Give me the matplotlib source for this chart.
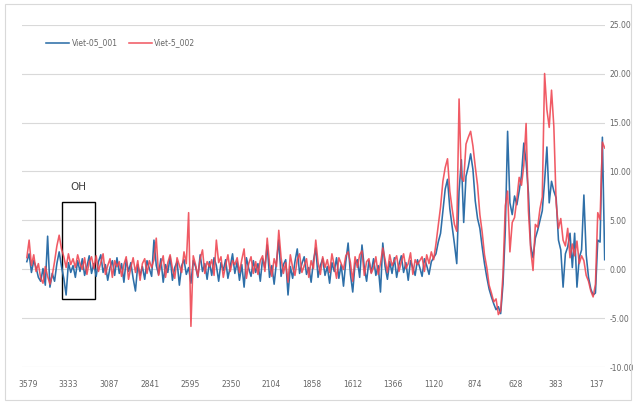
import matplotlib
matplotlib.use("Agg")
import matplotlib.pyplot as plt
from matplotlib.patches import Rectangle
import numpy as np

# wavenumber axis (cm-1), sampled every 14
wavenumber = np.linspace(3586, 86, 251)

viet_05_001 = [
    0.8, 1.6, -0.3, 0.9, 0.2, -0.8, -1.2, 0.1, -1.6, 3.4,
    -1.8, -0.4, -1.2, 0.6, 1.8, 0.3, -0.9, -2.6, 0.7, -0.3,
    0.4, -0.8, 0.9, -0.2, 1.1, -0.6, 0.3, 1.4, -0.4, 0.6,
    -0.7, 0.8, 1.5, -0.3, 0.5, -1.1, 0.2, 0.9, -0.6, 1.2,
    -0.4, 0.6, -1.3, 1.0, -0.2, 0.7, -0.9, -2.2, 0.5, -0.6,
    0.3, -1.0, 0.9, 0.1, -0.7, 3.0, 0.4, -0.5, 1.1, -1.3,
    0.5, -0.3, 1.3, -1.1, 0.2, 0.8, -1.6, 0.4, 1.0, -0.5,
    0.2, -1.4, 0.9, 0.3, -0.8, 1.5, -0.2, 0.6, -1.0, 0.8,
    -0.6, 1.2, 0.4, -1.2, 0.7, -0.1, 1.0, -0.9, 0.3, 1.6,
    -0.4, 0.8, -1.1, 0.5, -1.8, 1.2, 0.1, -0.7, 0.9, -0.3,
    0.6, -1.2, 1.1, 0.2, 2.5, -0.8, 0.4, -1.5, 0.7, 3.0,
    -0.7, 0.5, 1.0, -2.6, 0.3, -0.9, 0.8, 2.1, -0.4, 0.6,
    1.3, -0.5, 0.2, -1.3, 0.9, 2.2, -0.8, 0.4, 1.1, -0.6,
    0.3, -1.4, 0.7, -0.2, 1.2, -0.9, 0.5, -1.7, 0.8, 2.7,
    -0.5, -2.3, 0.6, 1.0, -0.8, 2.5, 0.2, -1.2, 0.9, -0.3,
    1.1, -0.6, 0.4, -2.3, 2.7, 0.3, -1.0, 0.8, -0.4, 1.2,
    -0.8, 0.5, 1.4, -0.3, 0.7, -1.1, 0.9, 0.2, -0.6, 1.0,
    0.2, -0.7, 1.1, 0.4, -0.5, 0.8, 1.2, 1.6, 2.8, 3.7,
    6.0, 8.2, 9.2, 6.2, 4.4, 2.6, 0.6, 8.0, 11.2, 4.8,
    9.5, 10.5, 11.8, 10.2, 7.0, 5.2, 4.2, 2.3, 0.6, -0.8,
    -2.0, -2.8, -3.5, -4.1, -3.8, -4.5, -1.5, 4.0, 14.1, 6.8,
    5.6, 7.5, 6.6, 8.0, 9.6, 12.9, 11.0, 7.8, 2.4, 1.2,
    3.2, 4.0, 5.0, 6.0, 9.0, 12.5, 6.8, 9.0, 8.0, 7.3,
    3.0, 2.0, -1.8, 1.6, 2.3, 3.7, 0.2, 3.7, -1.8, 1.2,
    2.0, 7.6, 1.5, -0.8, -2.0, -2.6, -2.4, 3.0, 2.8, 13.5,
    1.0,
]

viet_5_002 = [
    1.2, 3.0, 0.4, 1.5, -0.2, 0.6, -0.9, -1.4, 0.3, -0.7,
    -1.5, -0.6, 0.8, 2.4, 3.5, 2.1, 1.3, 0.2, 1.6, 0.5,
    1.1, 0.2, 1.5, 0.6, 0.0, 1.2, -0.5, 0.8, 1.3, 0.1,
    1.4, -0.2, 0.7, 1.6, -0.5, 0.4, 1.1, -0.8, 0.9, 0.3,
    0.8, -0.7, 0.5, 1.3, -1.0, 0.2, 1.2, -0.3, 0.9, -1.1,
    0.6, 1.1, -0.4, 0.9, 0.2, 1.0, 3.2, -0.6, 0.5, 1.4,
    -0.8, 0.7, 1.5, 0.1, -0.9, 1.2, 0.4, -0.3, 1.8, 0.6,
    5.8, -5.8, 1.4, 0.5, -0.7, 1.1, 2.0, -0.4, 0.8, 0.3,
    1.0, -0.6, 3.0, 0.7, 1.3, -0.8, 0.4, 1.5, -0.2, 0.9,
    0.5, 1.2, -0.3, 1.0, 2.1, -0.9, 0.6, 1.3, -0.4, 0.8,
    -0.5, 0.9, 1.4, -0.2, 3.2, 0.6, -0.7, 1.1, 0.3, 4.0,
    1.2, -0.4, 0.7, -1.3, 1.5, 0.2, -0.6, 1.0, 1.6, -0.3,
    0.4, 1.1, -0.8, 0.9, 0.1, 3.0, 0.7, -0.5, 1.3, 0.2,
    1.0, -0.3, 1.6, 0.4, -0.9, 1.2, 0.6, 0.0, 1.4, 1.8,
    0.7, -1.2, 1.3, 0.2, 1.5, 1.9, -0.6, 0.8, 1.1, -0.4,
    0.2, 1.3, -0.5, 0.6, 2.2, 1.0, -0.3, 1.5, 0.4, 0.9,
    1.4, -0.2, 0.8, 1.6, 0.1, 0.6, 1.7, -0.5, 1.0, 0.5,
    0.9, 1.3, -0.2, 1.5, 0.6, 1.8, 1.0, 2.6, 4.5, 6.4,
    9.0, 10.4, 11.3, 8.0, 6.2, 4.6, 3.9, 17.4, 9.4, 9.0,
    12.8, 13.5, 14.1, 12.6, 10.5, 8.6, 5.6, 3.8, 1.5, 0.2,
    -1.6, -2.4, -3.3, -3.0, -4.6, -4.2, -0.5, 6.5, 8.0, 1.8,
    4.8, 5.3, 7.2, 9.4, 8.6, 10.6, 14.9, 6.0, 2.0, -0.1,
    4.6, 4.3, 6.2, 7.4, 20.0, 16.3, 14.5, 18.3, 14.6, 6.8,
    4.2, 5.2, 3.0, 2.4, 4.2, 1.2, 2.6, 1.4, 2.9, 0.6,
    1.4, 0.9, -0.6, -1.2, -2.2, -2.8, -1.5, 5.8, 5.1, 13.0,
    12.4,
]

xticks = [3579, 3333, 3087, 2841, 2595, 2350, 2104, 1858, 1612, 1366, 1120, 874, 628, 383, 137]
yticks = [-10, -5, 0, 5, 10, 15, 20, 25]

fig = plt.figure(figsize=(6.33, 4.03), dpi=100)
ax = fig.add_axes([0.0348, 0.0881, 0.9210, 0.8511])

ax.plot(wavenumber, viet_05_001, color="#2e6fa8", lw=1.15, label="Viet-05_001")
ax.plot(wavenumber, viet_5_002, color="#ef4450", lw=1.15, alpha=0.88, label="Viet-5_002")

ax.set_xlim(3615, 84)
ax.set_ylim(-10, 25)
ax.set_xticks(xticks)
ax.set_xticklabels([str(t) for t in xticks])
ax.set_yticks(yticks)
ax.set_yticklabels([f"{t:.2f}" for t in yticks])
ax.yaxis.tick_right()
ax.tick_params(length=0, labelsize=5.5, labelcolor="#666666")
ax.tick_params(axis="x", pad=9)
ax.tick_params(axis="y", pad=3)
ax.grid(axis="y", color="#d9d9d9", lw=0.8)
ax.set_axisbelow(True)
for s in ax.spines.values():
    s.set_visible(False)

# OH band marker
ax.add_patch(Rectangle((3373, -3.0), -200, 9.9, fill=False, edgecolor="black", lw=1.0))
ax.text(3273, 7.9, "OH", ha="center", va="bottom", fontsize=7.5, color="#404040")

ax.legend(loc="upper left", bbox_to_anchor=(0.03, 0.98), ncol=2, frameon=False,
          fontsize=5.5, handlelength=3, handletextpad=0.3, columnspacing=1.5,
          labelcolor="#666666")

fig.add_artist(Rectangle((5 / 633, 3 / 403), 626 / 633, 396 / 403, transform=fig.transFigure,
                         fill=False, edgecolor="#d9d9d9", lw=0.8))

fig.savefig("out.png", dpi=100)
